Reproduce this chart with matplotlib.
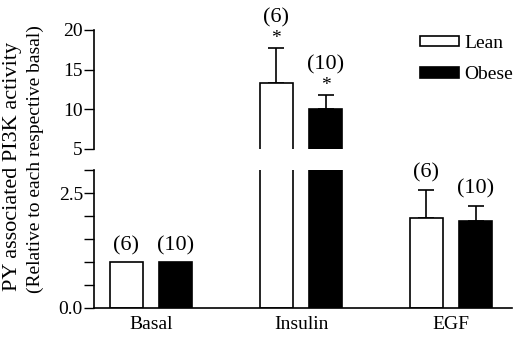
import matplotlib
matplotlib.use('Agg')
import matplotlib.pyplot as plt
from matplotlib.patches import Patch
from matplotlib.ticker import MultipleLocator
import numpy as np

plt.rcParams['font.family'] = ['Liberation Serif', 'DejaVu Serif']

groups = ['Basal', 'Insulin', 'EGF']
lean = [1.0, 13.3, 1.95]
lean_err = [0.0, 4.4, 0.62]
obese = [1.0, 10.0, 1.89]
obese_err = [0.0, 1.8, 0.33]
lean_n = ['(6)', '(6)', '(6)']
obese_n = ['(10)', '(10)', '(10)']
lean_star = [False, True, False]
obese_star = [False, True, False]

W, H = 520, 337
fig = plt.figure(figsize=(W / 100, H / 100), dpi=100)

# axes in pixel coords (from the top-left)
left, right = 94, 512
ax_lo = fig.add_axes([left / W, (H - 308) / H, (right - left) / W, (308 - 170) / H])
ax_hi = fig.add_axes([left / W, (H - 149) / H, (right - left) / W, (149 - 30) / H])

x = np.arange(len(groups))
off = 0.165
bw = 0.22

for ax in (ax_lo, ax_hi):
    ax.bar(x - off, lean, bw, color='white', edgecolor='black', linewidth=1.2, zorder=2)
    ax.bar(x + off, obese, bw, color='black', edgecolor='black', linewidth=1.2, zorder=2)
    for i in range(len(groups)):
        if lean_err[i] > 0:
            ax.errorbar(x[i] - off, lean[i], yerr=[[0], [lean_err[i]]], fmt='none',
                        ecolor='black', elinewidth=1.2, capsize=6, capthick=1.2, zorder=1)
        if obese_err[i] > 0:
            ax.errorbar(x[i] + off, obese[i], yerr=[[0], [obese_err[i]]], fmt='none',
                        ecolor='black', elinewidth=1.2, capsize=6, capthick=1.2, zorder=1)
    ax.set_xlim(-0.38, -0.38 + (right - left) / 150)
    ax.spines['top'].set_visible(False)
    ax.spines['right'].set_visible(False)
    ax.spines['left'].set_linewidth(1.2)
    ax.tick_params(axis='y', which='both', direction='out', width=1.0, labelsize=14, pad=1)
    ax.tick_params(axis='y', which='major', length=7)
    ax.tick_params(axis='y', which='minor', length=7)

ax_lo.set_ylim(0, 3)
ax_lo.set_yticks([0, 2.5])
ax_lo.set_yticklabels(['0.0', '2.5'])
ax_lo.yaxis.set_minor_locator(MultipleLocator(0.5))
ax_lo.spines['bottom'].set_linewidth(1.2)
ax_lo.set_xticks(x)
ax_lo.set_xticklabels(groups, fontsize=14)
ax_lo.tick_params(axis='x', length=0, pad=6)

ax_hi.set_ylim(5, 20)
ax_hi.set_yticks([5, 10, 15, 20])
ax_hi.spines['bottom'].set_visible(False)
ax_hi.set_xticks([])

# n labels and significance stars
for i in range(len(groups)):
    for xs, v, e, n, st in ((x[i] - off, lean[i], lean_err[i], lean_n[i], lean_star[i]),
                            (x[i] + off, obese[i], obese_err[i], obese_n[i], obese_star[i])):
        top = v + e
        ax = ax_hi if top > 3 else ax_lo
        if st:
            ax.annotate('*', (xs, top), xytext=(0, 1), textcoords='offset points',
                        ha='center', va='bottom', fontsize=14, annotation_clip=False)
            ax.annotate(n, (xs, top), xytext=(0, 15), textcoords='offset points',
                        ha='center', va='bottom', fontsize=16, annotation_clip=False)
        else:
            ax.annotate(n, (xs, top), xytext=(0, 5), textcoords='offset points',
                        ha='center', va='bottom', fontsize=16, annotation_clip=False)

handles = [Patch(facecolor='white', edgecolor='black', linewidth=1.2, label='Lean'),
           Patch(facecolor='black', edgecolor='black', linewidth=1.2, label='Obese')]
fig.legend(handles=handles, loc='upper left', bbox_to_anchor=(412 / W, 1 - 27 / H),
           frameon=False, fontsize=14, handlelength=2.0, handleheight=0.45,
           handletextpad=0.3, labelspacing=0.75, borderaxespad=0)

# y label, two lines starting from the same baseline point
fig.text(13 / W, (H - 291) / H, 'PY associated PI3K activity',
         rotation=90, ha='center', va='bottom', fontsize=16)
fig.text(35 / W, (H - 293) / H, '(Relative to each respective basal)',
         rotation=90, ha='center', va='bottom', fontsize=14)

fig.savefig('out.png', dpi=100)
